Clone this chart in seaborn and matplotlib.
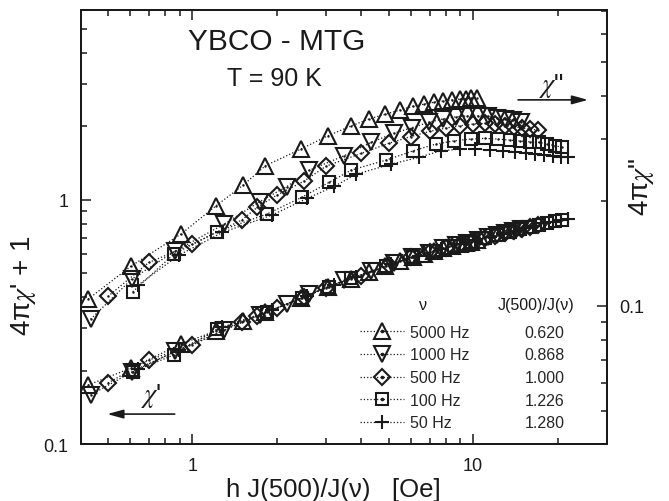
import numpy as np
import pandas as pd
import matplotlib
matplotlib.use("Agg")
import matplotlib.pyplot as plt
import seaborn as sns
from matplotlib.lines import Line2D
from matplotlib.ticker import LogLocator, NullFormatter, FixedLocator, FixedFormatter
from matplotlib.legend_handler import HandlerTuple

# ---------------- data (x = h J(500)/J(nu) in Oe) ----------------
freq_labels = ["5000 Hz", "1000 Hz", "500 Hz", "100 Hz", "50 Hz"]
ratio_labels = ["0.620", "0.868", "1.000", "1.226", "1.280"]

x_5000 = [0.425, 0.605, 0.91, 1.21, 1.52, 1.82, 2.43, 3.04, 3.66, 4.26, 4.87, 5.51,
          6.10, 6.67, 7.26, 7.82, 8.41, 8.97, 9.4, 9.85, 10.3]
chi2_5000 = [0.1045, 0.130, 0.1605, 0.193, 0.222, 0.252, 0.281, 0.307, 0.327, 0.343, 0.354,
             0.364, 0.373, 0.378, 0.383, 0.386, 0.389, 0.391, 0.392, 0.393, 0.393]
chi1_5000 = [0.1745, 0.2048, 0.2569, 0.2905, 0.3177, 0.3459, 0.3947, 0.4418, 0.4746, 0.5055,
             0.5339, 0.5623, 0.5838, 0.6006, 0.6162, 0.6328, 0.6461, 0.6577, 0.6664, 0.6752, 0.6842]

x_1000 = [0.434, 0.608, 0.868, 1.30, 1.74, 2.17, 2.60, 3.47, 4.34, 5.21, 6.08, 6.94,
          7.81, 8.68, 9.55, 10.4, 11.3, 12.2, 13.0, 13.9, 14.8]
chi2_1000 = [0.0916, 0.1193, 0.1435, 0.1715, 0.199, 0.2196, 0.2443, 0.269, 0.294, 0.312, 0.324,
             0.3354, 0.343, 0.348, 0.350, 0.350, 0.349, 0.346, 0.344, 0.340, 0.336]
chi1_1000 = [0.1588, 0.1972, 0.2394, 0.2933, 0.3378, 0.3748, 0.4101, 0.4679, 0.5093, 0.5493,
             0.5838, 0.6081, 0.6328, 0.6522, 0.669, 0.6857, 0.7034, 0.7188, 0.7325, 0.7464, 0.7605]

x_500 = [0.5, 0.7, 1.0, 1.5, 1.7, 2.0, 2.5, 3.0, 4.0, 5.0, 6.0, 7.0, 8.0, 9.0, 10.0, 11.0,
         12.0, 13.0, 14.0, 15.0, 16.0, 17.0]
chi2_500 = [0.1064, 0.1331, 0.1503, 0.1761, 0.1914, 0.2076, 0.2277, 0.2514, 0.2734, 0.292,
            0.3054, 0.316, 0.323, 0.328, 0.3317, 0.3332, 0.331, 0.3283, 0.3257, 0.323, 0.3208, 0.3187]
chi1_500 = [0.1778, 0.2209, 0.2545, 0.3162, 0.3346, 0.3608, 0.4004, 0.4378, 0.4882, 0.5416,
            0.5811, 0.6121, 0.6356, 0.6583, 0.6772, 0.6988, 0.7147, 0.7325, 0.7478, 0.7621,
            0.7773, 0.7898]

x_100 = [0.613, 0.858, 1.226, 1.84, 2.45, 3.07, 3.68, 4.90, 6.13, 7.36, 8.58, 9.81, 11.0,
         12.3, 13.5, 14.7, 15.9, 17.2, 18.4, 19.6, 20.8]
chi2_100 = [0.1097, 0.1406, 0.163, 0.1831, 0.2045, 0.2258, 0.2448, 0.2615, 0.278, 0.2906, 0.297,
            0.3004, 0.3018, 0.3004, 0.2984, 0.2964, 0.2951, 0.2939, 0.2906, 0.2874, 0.2843]
chi1_100 = [0.1978, 0.2316, 0.2961, 0.3475, 0.3966, 0.441, 0.4769, 0.5364, 0.5838, 0.618,
            0.6493, 0.674, 0.6988, 0.7201, 0.7407, 0.7569, 0.775, 0.7913, 0.8078, 0.8202, 0.828]

x_50 = [0.64, 0.896, 1.28, 1.92, 2.56, 3.20, 3.84, 5.12, 6.40, 7.68, 8.96, 10.2, 11.5, 12.8,
        14.1, 15.4, 16.6, 17.9, 19.2, 20.5, 21.8]
chi2_50 = [0.1146, 0.1398, 0.1623, 0.1819, 0.2031, 0.2198, 0.2384, 0.2547, 0.2662, 0.278,
           0.2812, 0.2812, 0.2793, 0.278, 0.2765, 0.2748, 0.273, 0.2712, 0.2694, 0.2677, 0.2662]
chi1_50 = [0.2039, 0.2428, 0.3003, 0.3541, 0.4042, 0.4503, 0.485, 0.5467, 0.5921, 0.6287,
           0.6577, 0.6837, 0.7067, 0.7276, 0.7491, 0.7685, 0.7854, 0.8026, 0.8156, 0.8257, 0.836]

series_x = [x_5000, x_1000, x_500, x_100, x_50]
series_chi1 = [chi1_5000, chi1_1000, chi1_500, chi1_100, chi1_50]
series_chi2 = [chi2_5000, chi2_1000, chi2_500, chi2_100, chi2_50]

# ---------------- styles ----------------
markers = ["^", "v", "D", "s", "+"]
msizes = [11.0, 11.0, 8.0, 8.0, 10.0]
centre_dot = [True, True, True, True, False]
MEW = 1.5

sns.set_theme(style="ticks")
plt.rcParams["font.family"] = ["Liberation Sans", "DejaVu Sans"]
plt.rcParams["mathtext.fontset"] = "stix"
plt.rcParams["axes.linewidth"] = 1.4

fig = plt.figure(figsize=(6.69, 5.02), dpi=100)
ax = fig.add_axes([0.1206, 0.1135, 0.7867, 0.8645])
ax2 = ax.twinx()

line_kw = dict(color="k", linestyle=":", linewidth=0.9, markerfacecolor="none",
               markeredgecolor="k", markeredgewidth=MEW, estimator=None, sort=False,
               legend=False)

for xs, y1, y2, m, ms, dot in zip(series_x, series_chi1, series_chi2, markers, msizes, centre_dot):
    df = pd.DataFrame({"x": xs, "chi1": y1, "chi2": y2})
    sns.lineplot(data=df, x="x", y="chi1", ax=ax, marker=m, markersize=ms, **line_kw)
    sns.lineplot(data=df, x="x", y="chi2", ax=ax2, marker=m, markersize=ms, **line_kw)
    if dot:
        sns.scatterplot(data=df, x="x", y="chi1", ax=ax, color="k", s=3, linewidth=0,
                        legend=False)
        sns.scatterplot(data=df, x="x", y="chi2", ax=ax2, color="k", s=3, linewidth=0,
                        legend=False)

# ---------------- axes ----------------
ax.set_xscale("log")
ax.set_yscale("log")
ax2.set_yscale("log")
ax.set_xlim(0.4, 30)
ax.set_ylim(0.1, 6.0)
ax2.set_ylim(0.0402, 0.7035)

ax.xaxis.set_major_locator(FixedLocator([1, 10]))
ax.xaxis.set_major_formatter(FixedFormatter(["1", "10"]))
ax.xaxis.set_minor_locator(LogLocator(base=10, subs=np.arange(2, 10), numticks=30))
ax.xaxis.set_minor_formatter(NullFormatter())
ax.yaxis.set_major_locator(FixedLocator([0.1, 1]))
ax.yaxis.set_major_formatter(FixedFormatter(["0.1", "1"]))
ax.yaxis.set_minor_locator(LogLocator(base=10, subs=np.arange(2, 10), numticks=30))
ax.yaxis.set_minor_formatter(NullFormatter())
ax2.yaxis.set_major_locator(FixedLocator([0.1]))
ax2.yaxis.set_major_formatter(FixedFormatter(["0.1"]))
ax2.yaxis.set_minor_locator(LogLocator(base=10, subs=np.arange(2, 10), numticks=30))
ax2.yaxis.set_minor_formatter(NullFormatter())

ax.tick_params(axis="x", which="both", direction="in", top=True, bottom=True, colors="k",
               labelsize=13, pad=9)
ax.tick_params(axis="y", which="both", direction="in", left=True, right=False, colors="k",
               labelsize=13, pad=9)
ax2.tick_params(axis="y", which="both", direction="in", right=True, colors="k",
                labelsize=13, pad=9)
for a in (ax, ax2):
    a.tick_params(which="major", length=7.5, width=1.1)
    a.tick_params(which="minor", length=4.0, width=1.1)
    for s in a.spines.values():
        s.set_linewidth(1.4)
        s.set_color("k")

ax.set_xlabel("h J(500)/J(ν)   [Oe]", fontsize=18.5, color="k")
ax.xaxis.set_label_coords(0.481, -0.077)
ax.set_ylabel("")
fig.text(24 / 669, 1 - 286 / 502, r"4π$\chi$' + 1", rotation=90, ha="center", va="center",
         fontsize=20, color="k")
ax2.set_ylabel(r'4π$\chi$"', fontsize=20, color="k")
ax2.yaxis.set_label_coords(1.038, 0.594)

# ---------------- annotations ----------------
ax.text(0.373, 0.9286, "YBCO - MTG", transform=ax.transAxes, ha="center", va="center",
        fontsize=21.5, color="k")
ax.text(0.3674, 0.843, "T = 90 K", transform=ax.transAxes, ha="center", va="center",
        fontsize=18, color="k")

arrow_kw = dict(arrowstyle="-|>,head_length=0.8,head_width=0.22", color="k", lw=1.2,
                shrinkA=0, shrinkB=0)
ax.annotate("", xy=(0.964, 0.793), xytext=(0.831, 0.793), xycoords="axes fraction",
            textcoords="axes fraction", arrowprops=arrow_kw)
ax.text(0.894, 0.827, r'$\chi$"', transform=ax.transAxes, ha="center", va="center",
        fontsize=19, color="k")
ax.annotate("", xy=(0.0505, 0.069), xytext=(0.1786, 0.069), xycoords="axes fraction",
            textcoords="axes fraction", arrowprops=arrow_kw)
ax.text(0.1336, 0.113, r"$\chi$'", transform=ax.transAxes, ha="center", va="center",
        fontsize=19, color="k")

# ---------------- legends ----------------
handles = []
for m, ms, dot in zip(markers, msizes, centre_dot):
    ln = Line2D([], [], color="k", linestyle=":", linewidth=0.9, marker=m, markersize=ms,
                markerfacecolor="none", markeredgecolor="k", markeredgewidth=MEW)
    if dot:
        dt = Line2D([], [], linestyle="none", marker="o", markersize=1.6, color="k")
        handles.append((ln, dt))
    else:
        handles.append(ln)

leg_kw = dict(frameon=False, fontsize=11.5, labelspacing=0.48, borderpad=0, borderaxespad=0)
leg1 = ax2.legend(handles, freq_labels, loc="upper left", bbox_to_anchor=(0.531, 0.2747),
                  handlelength=2.75, handletextpad=0.4,
                  handler_map={tuple: HandlerTuple(ndivide=1)}, **leg_kw)
ax2.add_artist(leg1)
blank = [Line2D([], [], linestyle="none") for _ in ratio_labels]
leg2 = ax2.legend(blank, ratio_labels, loc="upper center", bbox_to_anchor=(0.882, 0.2747),
                  handlelength=0, handletextpad=0, **leg_kw)
ax.text(0.6504, 0.3226, "ν", transform=ax.transAxes, ha="center", va="center",
        fontsize=11.5, color="k")
ax.text(0.865, 0.3226, "J(500)/J(ν)", transform=ax.transAxes, ha="center", va="center",
        fontsize=11.5, color="k")

fig.savefig("out.png", dpi=100)
